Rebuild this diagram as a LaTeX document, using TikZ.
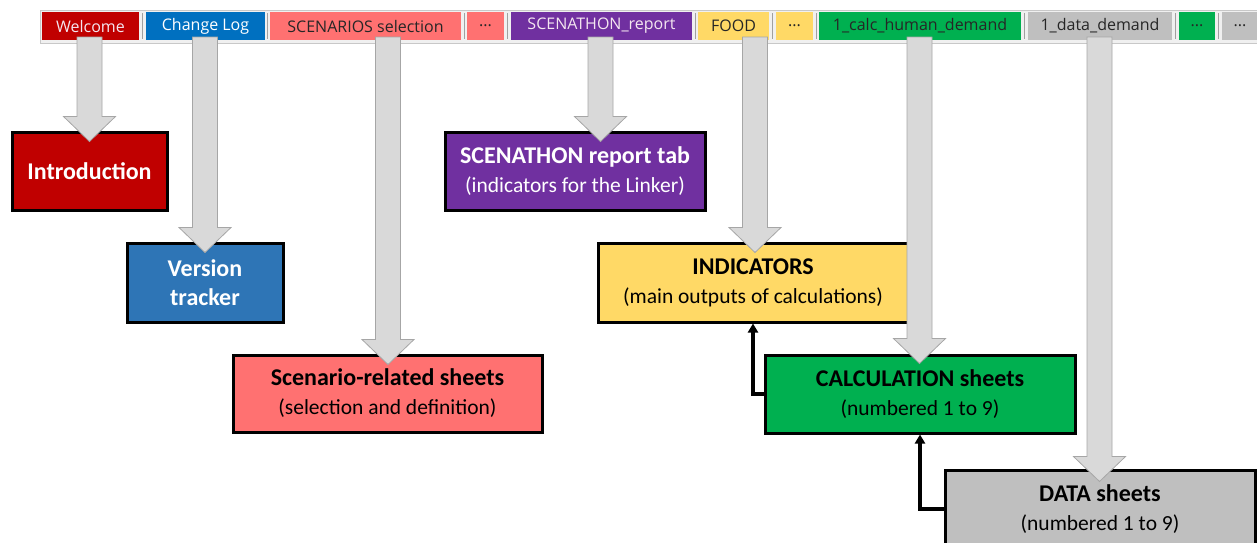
\documentclass[tikz,border=0pt]{standalone}
\usepackage{fontspec}
\newfontfamily\tabfont{Open Sans}
\newfontfamily\boxfont{Carlito}
\usetikzlibrary{calc,arrows.meta}
\definecolor{cRed}{HTML}{C00000}
\definecolor{cBlue}{HTML}{0070C0}
\definecolor{cBlueBox}{HTML}{2E75B6}
\definecolor{cSalmon}{HTML}{FF7171}
\definecolor{cPurple}{HTML}{7030A0}
\definecolor{cYellow}{HTML}{FFD966}
\definecolor{cGreen}{HTML}{00B050}
\definecolor{cGray}{HTML}{BFBFBF}
\definecolor{cArrow}{HTML}{D9D9D9}
\definecolor{cArrowEdge}{HTML}{A6A6A6}
\definecolor{cBar}{HTML}{F0F0F0}
\definecolor{cBarEdge}{HTML}{C8C8C8}
\definecolor{cSep}{HTML}{A0A0A0}
\definecolor{cLight}{HTML}{F4E6F0}
\tikzset{
  tab/.style={minimum height=28, inner sep=0pt, font=\tabfont\fontsize{16}{18}\selectfont},
  sheetbox/.style={draw=black, line width=3pt, minimum height=78, inner sep=0pt, align=center,
    font=\boxfont\fontsize{24}{29}\selectfont\bfseries},
  garrowstyle/.style={fill=cArrow, draw=cArrowEdge, line width=0.8pt, line join=miter},
  link/.style={draw=black, line width=3.5pt, -{Triangle[length=9pt,width=10pt]}}
}
\newcommand{\sub}[1]{{\fontsize{21.5}{29}\selectfont\mdseries #1}}
\newcommand{\garrow}[2]{%
  \path[garrowstyle] let \p1=(#1), \p2=(#2) in
    (\x1-12.5pt,\y1) -- (\x1+12.5pt,\y1) -- (\x1+12.5pt,\y2+25pt) -- (\x1+26pt,\y2+25pt)
    -- (\x1,\y2) -- (\x1-26pt,\y2+25pt) -- (\x1-12.5pt,\y2+25pt) -- cycle;}
\begin{document}
\begin{tikzpicture}[x=1pt,y=-1pt]
\useasboundingbox (0,0) rectangle (1257,542);
% tab bar
\fill[cBar] (40,10) rectangle (1260,43);
\draw[cBarEdge, line width=1pt] (1260,10) -- (40,10) -- (40,43) -- (1260,43);
\foreach \sx in {142.5,267.5,464,507.5,695,772.5,816,1024.5,1175.5,1218.5}
  \draw[cSep, line width=1pt] (\sx,13) -- (\sx,39);
\node[tab, fill=cRed, text=cLight, minimum width=97] (t1) at (90.5,26) {Welcome};
\node[tab, fill=cBlue, text=white, minimum width=119] (t2) at (205.5,26) {Change Log};
\node[tab, fill=cSalmon, text=black!85, minimum width=191] (t3) at (365.5,26) {SCENARIOS selection};
\node[tab, fill=cSalmon, text=black!85, minimum width=37] (t4) at (485.5,26) {...};
\node[tab, fill=cPurple, text=cLight, minimum width=181] (t5) at (601.5,26) {SCENATHON\_report};
\node[tab, fill=cYellow, text=black!85, minimum width=71] (t6) at (733.5,26) {FOOD};
\node[tab, fill=cYellow, text=black!85, minimum width=37] (t7) at (794.5,26) {...};
\node[tab, fill=cGreen, text=black!85, minimum width=202] (t8) at (920,26) {1\_calc\_human\_demand};
\node[tab, fill=cGray, text=black!85, minimum width=144] (t9) at (1100,26) {1\_data\_demand};
\node[tab, fill=cGreen, text=black!85, minimum width=36] (t10) at (1197,26) {...};
\node[tab, fill=cGray, text=black!85, minimum width=36] (t11) at (1240,26) {...};
% boxes
\node[sheetbox, fill=cRed, text=white, minimum width=155] (intro) at (89.5,171) {Introduction};
\node[sheetbox, fill=cBlueBox, text=white, minimum width=156, minimum height=79] (vers) at (205,282.5) {Version\\tracker};
\node[sheetbox, fill=cSalmon, text=black, minimum width=309, minimum height=77] (scen) at (387.5,393.5) {Scenario-related sheets\\\sub{(selection and definition)}};
\node[sheetbox, fill=cPurple, text=white, minimum width=260] (rep) at (575,171) {SCENATHON report tab\\\sub{(indicators for the Linker)}};
\node[sheetbox, fill=cYellow, text=black, minimum width=310, minimum height=79] (ind) at (753,282.5) {INDICATORS\\\sub{(main outputs of calculations)}};
\node[sheetbox, fill=cGreen, text=black, minimum width=310] (calc) at (920,394) {CALCULATION sheets\\\sub{(numbered 1 to 9)}};
\node[sheetbox, fill=cGray, text=black, minimum width=310] (data) at (1100,509) {DATA sheets\\\sub{(numbered 1 to 9)}};
% links
\draw[link] (calc.west) -| (ind.south);
\draw[link] (data.west) -| (calc.south);
% block arrows from tabs
\coordinate (s1) at (89.5,37);
\coordinate (s2) at (205,37);
\coordinate (s3) at (388,37);
\coordinate (s5) at (600.5,37);
\coordinate (s6) at (755,37);
\coordinate (s8) at (919.5,37);
\coordinate (s9) at (1099.5,37);
\garrow{s1}{$(s1 |- intro.north)+(0,11)$}
\garrow{s2}{$(s2 |- vers.north)+(0,11)$}
\garrow{s3}{$(s3 |- scen.north)+(0,11)$}
\garrow{s5}{$(s5 |- rep.north)+(0,11)$}
\garrow{s6}{$(s6 |- ind.north)+(0,11)$}
\garrow{s8}{$(s8 |- calc.north)+(0,10)$}
\garrow{s9}{$(s9 |- data.north)+(0,13)$}
\end{tikzpicture}
\end{document}
